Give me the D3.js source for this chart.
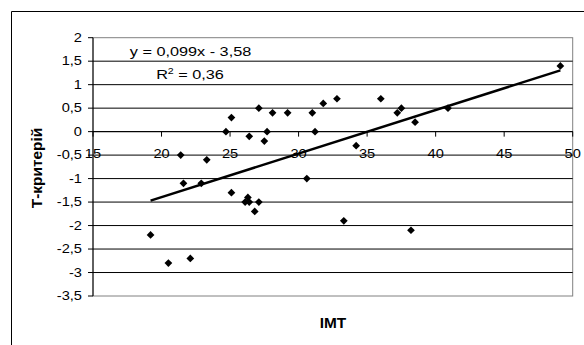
<!DOCTYPE html>
<html>
<head>
<meta charset="utf-8">
<script src="https://cdn.jsdelivr.net/npm/d3@7"></script>
<style>
  html, body { margin: 0; padding: 0; background: #fff; overflow: hidden; }
  svg { display: block; font-family: "Liberation Sans", Arial, sans-serif; }
</style>
</head>
<body>
<svg id="chart" width="584" height="345"></svg>
<script>
// IMT values (x) and T-criterion values (y)
const imt = [19.2, 20.5, 21.4, 21.6, 22.1, 22.9, 23.3, 24.7, 25.1, 25.1, 26.1, 26.3, 26.4, 26.4, 26.8,
  27.1, 27.1, 27.5, 27.7, 28.1, 29.2, 30.6, 31.0, 31.2, 31.8, 32.8, 33.3, 34.2, 36.0, 37.2,
  37.5, 38.2, 38.5, 40.9, 49.1];
const tCrit = [-2.2, -2.8, -0.5, -1.1, -2.7, -1.1, -0.6, 0, 0.3, -1.3, -1.5, -1.4, -1.5, -0.1, -1.7,
  0.5, -1.5, -0.2, 0, 0.4, 0.4, -1.0, 0.4, 0, 0.6, 0.7, -1.9, -0.3, 0.7, 0.4,
  0.5, -2.1, 0.2, 0.5, 1.4];

const xTicks = [15, 20, 25, 30, 35, 40, 45, 50];
const yTicks = [-3.5, -3, -2.5, -2, -1.5, -1, -0.5, 0, 0.5, 1, 1.5, 2];
const eqLabel = "y = 0,099x - 3,58";
const r2Value = "0,36";
const xTitle = "IMT";
const yTitle = "Т-критерій";

const svg = d3.select("#chart");
const x = d3.scaleLinear().domain([15, 50]).range([93, 572.7]);
const y = d3.scaleLinear().domain([-3.5, 2]).range([296, 37.7]);

const fmt = d3.formatLocale({decimal: ",", thousands: " ", grouping: [3], currency: ["", ""], minus: "-"}).format(".1~f");
const stretch = 1.22;

// outer chart frame: only the left and top edges are inside the window
svg.append("path")
  .attr("d", "M11.5,345V11.5H584")
  .attr("fill", "none").attr("stroke", "#000");

// plot area border
svg.append("rect")
  .attr("x", x(15)).attr("y", y(2)).attr("width", x(50) - x(15)).attr("height", y(-3.5) - y(2))
  .attr("fill", "none").attr("stroke", "#808080");

// gridlines
svg.append("g").selectAll("line").data(yTicks.filter(d => d > -3.5 && d < 2)).join("line")
  .attr("x1", x(15)).attr("x2", x(50))
  .attr("y1", d => y(d)).attr("y2", d => y(d))
  .attr("stroke", "#000");

// y axis
svg.append("line")
  .attr("x1", x(15)).attr("x2", x(15)).attr("y1", y(2)).attr("y2", y(-3.5))
  .attr("stroke", "#000");
svg.append("g").selectAll("line").data(yTicks).join("line")
  .attr("x1", x(15) - 5).attr("x2", x(15))
  .attr("y1", d => y(d)).attr("y2", d => y(d))
  .attr("stroke", "#000");
svg.append("g").selectAll("text").data(yTicks).join("text")
  .attr("transform", d => `translate(82,${y(d) + 4.3}) scale(${stretch},1)`)
  .attr("text-anchor", "end")
  .attr("font-size", 12)
  .text(d => fmt(d));

// x axis crossing at 0
svg.append("line")
  .attr("x1", x(15)).attr("x2", x(50)).attr("y1", y(0)).attr("y2", y(0))
  .attr("stroke", "#000");
svg.append("g").selectAll("line").data(xTicks).join("line")
  .attr("x1", d => x(d)).attr("x2", d => x(d))
  .attr("y1", y(0)).attr("y2", y(0) + 5)
  .attr("stroke", "#000");
svg.append("g").selectAll("text").data(xTicks).join("text")
  .attr("transform", d => `translate(${x(d)},158.3) scale(${stretch},1)`)
  .attr("text-anchor", "middle")
  .attr("font-size", 12)
  .text(d => fmt(d));

// least squares trend line over the data range
const mx = d3.mean(imt), my = d3.mean(tCrit);
const sxy = d3.sum(imt, (v, i) => (v - mx) * (tCrit[i] - my));
const sxx = d3.sum(imt, v => (v - mx) ** 2);
const slope = sxy / sxx, icpt = my - slope * mx;
const [x0, x1] = d3.extent(imt);
svg.append("line")
  .attr("x1", x(x0)).attr("y1", y(icpt + slope * x0))
  .attr("x2", x(x1)).attr("y2", y(icpt + slope * x1))
  .attr("stroke", "#000").attr("stroke-width", 2.5);

// markers: black diamonds
const diamond = d3.symbol().type(d3.symbolSquare).size(30);
svg.append("g").selectAll("path").data(imt).join("path")
  .attr("transform", (d, i) => `translate(${x(d)},${y(tCrit[i])}) rotate(45)`)
  .attr("d", diamond)
  .attr("fill", "#000");

// trendline equation
svg.append("text")
  .attr("transform", `translate(190.5,55.5) scale(1.25,1)`)
  .attr("text-anchor", "middle").attr("font-size", 13)
  .text(eqLabel);
const r2 = svg.append("text")
  .attr("transform", `translate(190,79) scale(1.25,1)`)
  .attr("text-anchor", "middle").attr("font-size", 13);
r2.append("tspan").text("R");
r2.append("tspan").attr("dy", -5).attr("font-size", 8.5).text("2");
r2.append("tspan").attr("dy", 5).text(" = " + r2Value);

// axis titles
svg.append("text")
  .attr("transform", `translate(333,328.3) scale(1.1,1)`)
  .attr("text-anchor", "middle").attr("font-size", 14).attr("font-weight", "bold")
  .text(xTitle);
svg.append("text")
  .attr("transform", `translate(41.5,168) rotate(-90) scale(1.1,1)`)
  .attr("text-anchor", "middle").attr("font-size", 14).attr("font-weight", "bold")
  .text(yTitle);
</script>
</body>
</html>
